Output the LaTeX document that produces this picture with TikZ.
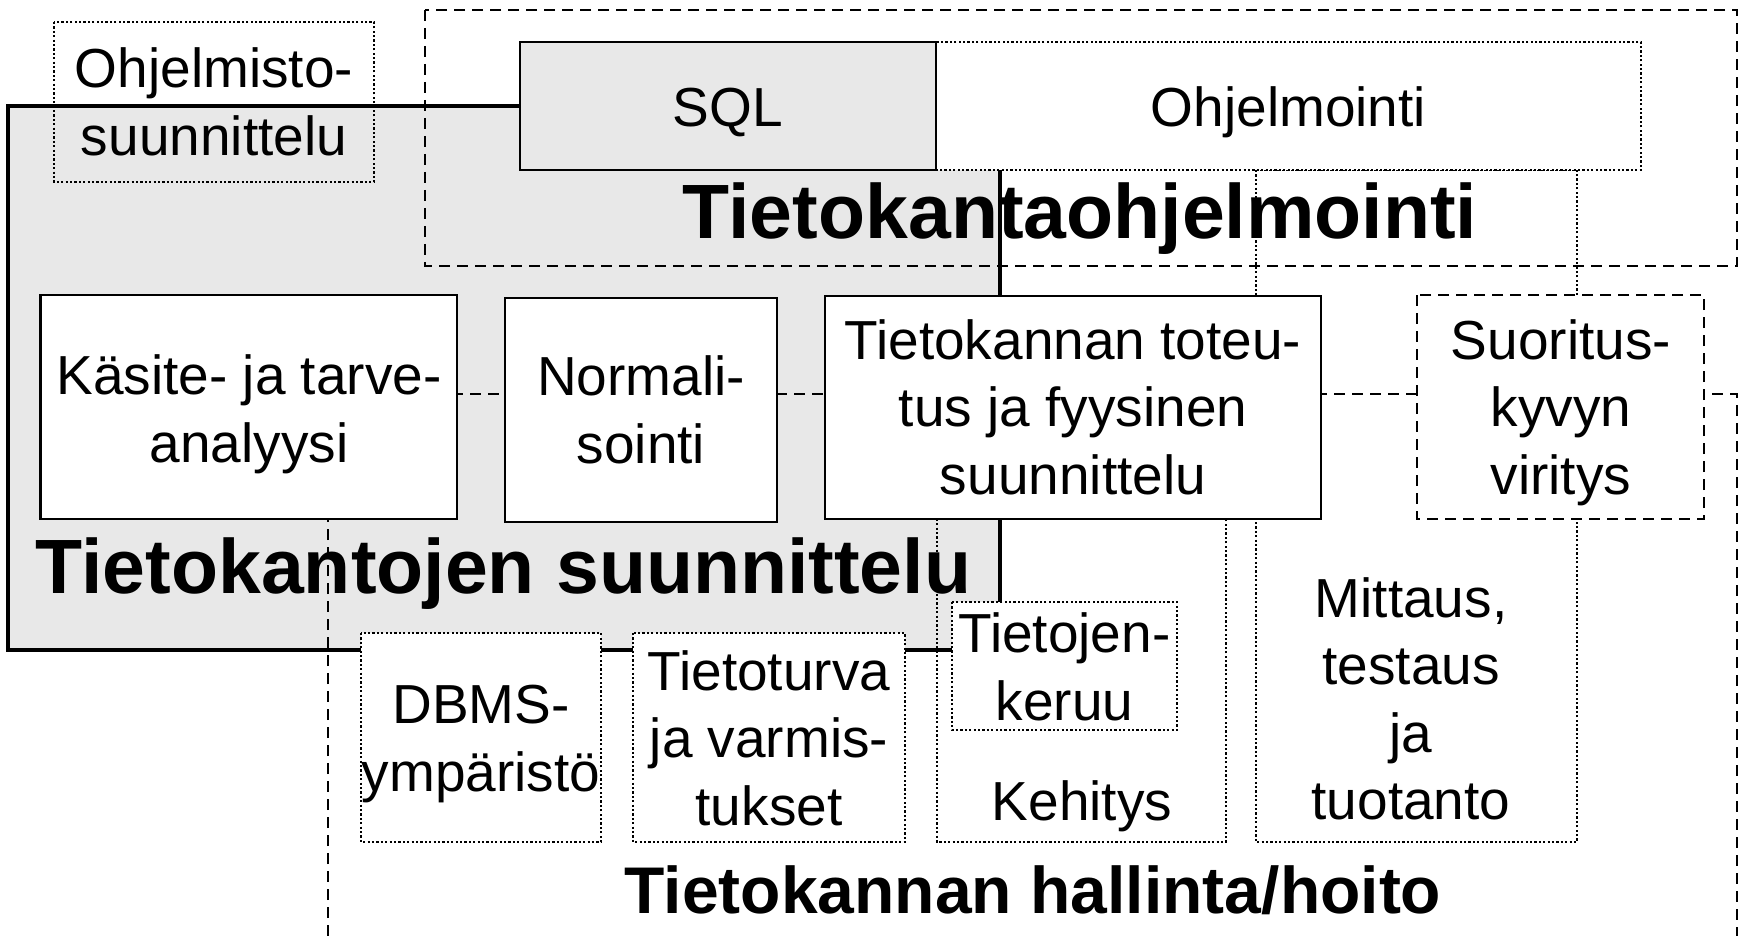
\documentclass[tikz,border=0pt]{standalone}
\usepackage{fontspec}
\setmainfont{Liberation Sans}
\definecolor{boxgrey}{RGB}{232,232,232}
\tikzset{
  lbl/.style={font=\fontsize{27.5}{33.75}\selectfont, align=center, inner sep=0pt},
  ttl/.style={font=\fontsize{38.5}{46}\selectfont\bfseries, inner sep=0pt, anchor=base},
  solidbox/.style={draw, line width=1.3pt, fill=white},
  dotbox/.style={draw, line width=1.2pt, dash pattern=on 1.1pt off 1.1pt},
  dashbox/.style={draw, line width=1.3pt, dash pattern=on 5.5pt off 3.5pt}
}

\begin{document}
\begin{tikzpicture}[x=0.5pt,y=-0.5pt]
      \useasboundingbox (0,0) rectangle (1744,936);

      % suunnittelu (grey area)
      \draw[line width=2pt,fill=boxgrey] (8,106) rectangle (1000,650);
      % ohjelmointi (dashed area)
      \draw[dashbox] (425,10) rectangle (1737,266);
      \node[ttl] (ohjtitle) at (1080,239) {Tietokantaohjelmointi};
      \node[ttl] (suuntitle) at (503.5,593) {Tietokantojen suunnittelu};

      % hallinta/hoito (dashed area, open at the bottom)
      \draw[dashbox] (328,936) -- (328,394) -- (1737,394) -- (1737,936);
      \node[ttl,font=\fontsize{33}{40}\selectfont\bfseries] (halltitle) at (1033,913) {Tietokannan hallinta/hoito};

      \draw[dotbox] (1256,170) rectangle (1577,842);
      \draw[dotbox] (937,400) rectangle (1226,842);
      \draw[dotbox] (54,22) rectangle (374,182);

      \draw[dotbox,fill=white] (936,42) rectangle (1641,170);
      \draw[solidbox,fill=boxgrey] (520,42) rectangle (936,170);

      \draw[solidbox] (40.6,295) rectangle (457,519)
      (505,298) rectangle (777,522)
      (825,296) rectangle (1321,519);
      \draw[dashbox,fill=white] (1417,295) rectangle (1704,519);

      \draw[dotbox,fill=white] (361,633) rectangle (601,842);
      \draw[dotbox,fill=white] (633,633) rectangle (905,842);
      \draw[dotbox,fill=white] (952,602) rectangle (1177,730);

      \node[lbl] (ohjsuun) at (214,102) {Ohjelmisto-\\suunnittelu};
      \node[lbl,anchor=base] (sql) at (728,127) {SQL};
      \node[lbl,anchor=base] (ohjelm) at (1288.5,127) {Ohjelmointi};

      \node[lbl] (kasite) at (249,414.5) {Käsite- ja tarve-\\analyysi};
      \node[lbl] (normal) at (641,410) {Normali-\\sointi};
      \node[lbl] (toteutus) at (1073,407) {Tietokannan toteu-\\tus ja fyysinen\\suunnittelu};
      \node[lbl] (viritys) at (1561,412.5) {Suoritus-\\kyvyn\\viritys};

      \node[lbl] (dbms) at (481,744) {DBMS-\\ympäristö};
      \node[lbl] (turva) at (769,738) {Tietoturva\\ja varmis-\\tukset};
      \node[lbl] (keruu) at (1064.5,667) {Tietojen-\\keruu};
      \node[lbl,anchor=base] (kehitys) at (1082,820) {Kehitys};
      \node[lbl] (mittaus) at (1411,699) {Mittaus,\\testaus\\ja\\tuotanto};
\end{tikzpicture}
\end{document}
